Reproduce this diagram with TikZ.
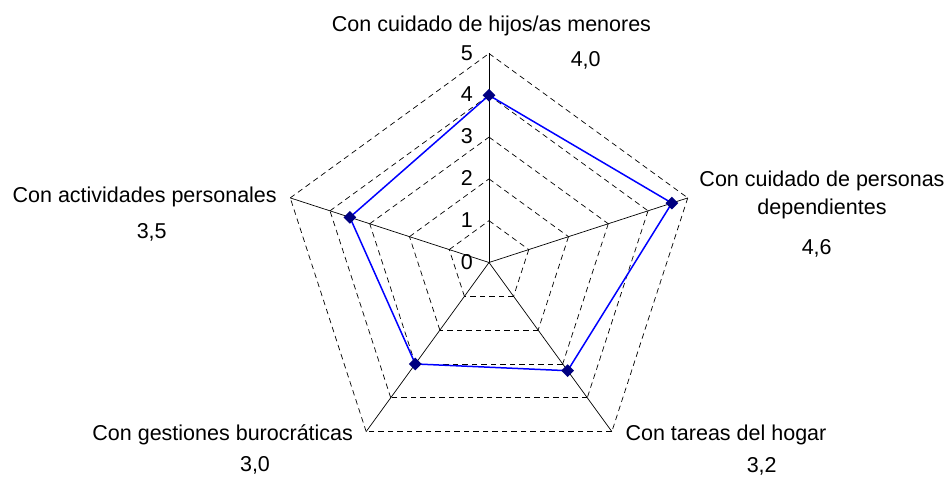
\documentclass[tikz,border=0pt]{standalone}
\usepackage{fontspec}
\setmainfont{Liberation Sans}
\usetikzlibrary{calc}
\definecolor{serieblue}{RGB}{0,0,255}
\definecolor{marknavy}{RGB}{0,0,128}
\tikzset{
  gridline/.style={dash pattern=on 5.5pt off 4pt, line width=0.7pt},
  axisline/.style={line width=0.7pt},
  serieline/.style={serieblue, line width=1.5pt},
  datamark/.style={rectangle, fill=marknavy, rotate=45, minimum size=9pt, inner sep=0pt},
  catlabel/.style={anchor=base, inner sep=0pt, align=center, font=\fontsize{21.5}{28.3}\selectfont},
  ticklabel/.style={anchor=base east, inner sep=0pt, font=\fontsize{21.5}{26}\selectfont}
}

\begin{document}
\begin{tikzpicture}[x=1pt,y=1pt]
  \useasboundingbox (0,0) rectangle (947,484);

  \begin{scope}[shift={(489,221.5)}, x=41.8pt, y=41.8pt]
    % Draw the dashed grid pentagons
    \foreach \r in {1,...,5}
      \foreach \a in {90,18,-54,-126,-198}
        \draw[gridline] (\a:\r) -- ({\a-72}:\r);

    % Draw the axes
    \coordinate (o) at (0,0);
    \coordinate (a1) at (90:5);
    \coordinate (a2) at (18:5);
    \coordinate (a3) at (-54:5);
    \coordinate (a4) at (-126:5);
    \coordinate (a5) at (162:5);
    \draw[axisline] (o) -- (a1);
    \draw[axisline] (o) -- (a2);
    \draw[axisline] (o) -- (a3);
    \draw[axisline] (o) -- (a4);
    \draw[axisline] (o) -- (a5);

    % Scale numbers on the vertical axis
    \foreach \k in {0,...,5}
      \node[ticklabel] (t\k) at (-0.38,\k-0.158) {\k};

    % Draw the data series
    \coordinate (p1) at (90:4.0);
    \coordinate (p2) at (18:4.6);
    \coordinate (p3) at (-54:3.2);
    \coordinate (p4) at (-126:3.0);
    \coordinate (p5) at (162:3.5);
    \draw[serieline] (p1) -- (p2) -- (p3) -- (p4) -- (p5) -- cycle;
    \node[datamark] (m1) at (p1) {};
    \node[datamark] (m2) at (p2) {};
    \node[datamark] (m3) at (p3) {};
    \node[datamark] (m4) at (p4) {};
    \node[datamark] (m5) at (p5) {};
  \end{scope}

  % Category names and values
  \node[catlabel] (hijos) at (491.5,452) {Con cuidado de hijos/as menores};
  \node[catlabel] (vhijos) at (585.7,417.3) {4,0};
  \node[catlabel] (personas) at (822,269) {Con cuidado de personas\\dependientes};
  \node[catlabel] (vpersonas) at (816.7,229) {4,6};
  \node[catlabel] (hogar) at (726,43.3) {Con tareas del hogar};
  \node[catlabel] (vhogar) at (761.7,11) {3,2};
  \node[catlabel] (gestiones) at (222.7,43.5) {Con gestiones burocráticas};
  \node[catlabel] (vgestiones) at (255,12.3) {3,0};
  \node[catlabel] (actividades) at (144.7,281.3) {Con actividades personales};
  \node[catlabel] (vactividades) at (151.7,245) {3,5};
\end{tikzpicture}
\end{document}
